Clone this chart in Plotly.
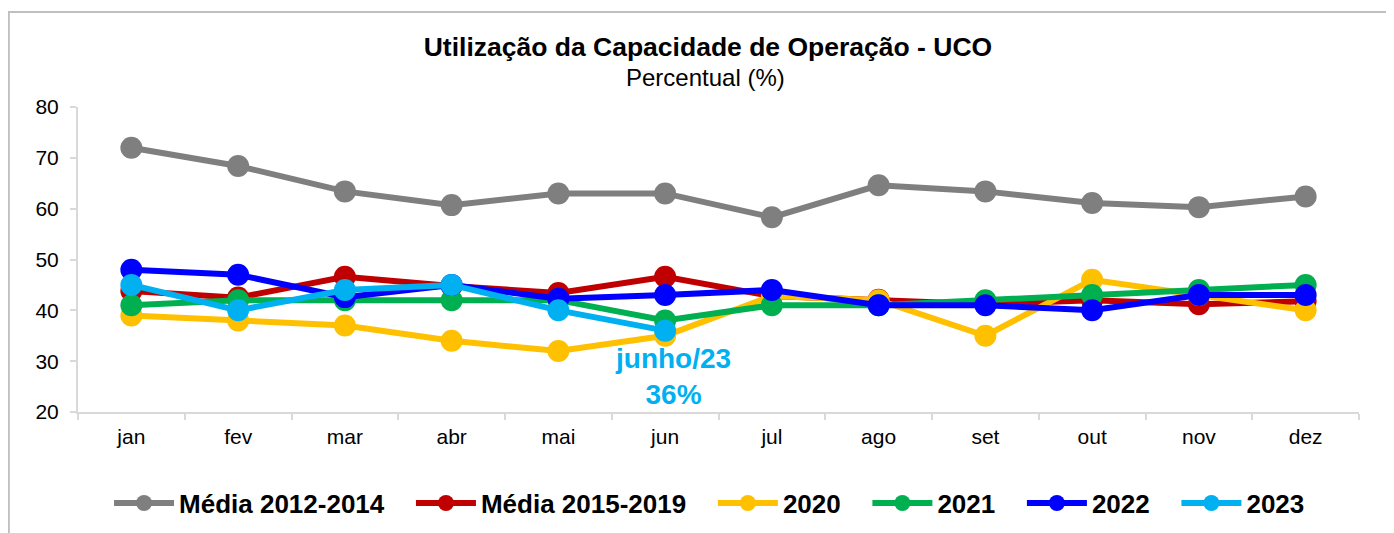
import plotly.graph_objects as go

meses = ['jan', 'fev', 'mar', 'abr', 'mai', 'jun', 'jul', 'ago', 'set', 'out', 'nov', 'dez']

media_2012_2014 = [72, 68.4, 63.4, 60.7, 63, 63, 58.3, 64.6, 63.4, 61.1, 60.3, 62.4]
media_2015_2019 = [43.8, 42.5, 46.6, 44.8, 43.4, 46.6, 42.8, 42.1, 41.2, 42, 41.2, 41.8]
uco_2020 = [39, 38, 37, 34, 32, 35, 42.8, 42, 35, 46, 43, 40]
uco_2021 = [41, 42, 42, 42, 42, 38, 41, 41, 42, 43, 44, 45]
uco_2022 = [48, 47, 42.6, 45, 42.3, 43, 44, 41, 41, 40, 43, 43]
uco_2023 = [45, 40, 44, 45, 40, 36]

series = [
    ('Média 2012-2014', media_2012_2014, '#7f7f7f'),
    ('Média 2015-2019', media_2015_2019, '#c00000'),
    ('2020', uco_2020, '#ffc000'),
    ('2021', uco_2021, '#00b050'),
    ('2022', uco_2022, '#0000ff'),
    ('2023', uco_2023, '#00b0f0'),
]

fonte = 'Liberation Sans, Arial'
espaco = '\u00a0' * 3  # afasta os itens da legenda

fig = go.Figure()
for i, (nome, valores, cor) in enumerate(series):
    rotulo = '<b>' + nome + '</b>' + (espaco if i < len(series) - 1 else '')
    fig.add_trace(go.Scatter(
        x=meses[:len(valores)], y=valores, name=rotulo,
        mode='lines+markers',
        line=dict(color=cor, width=6),
        marker=dict(color=cor, size=22),
    ))

# destaque do último ponto
fig.add_annotation(
    x='jun', y=27.0, text='<b>junho/23<br>36%</b>', showarrow=False,
    xshift=8, font=dict(size=28, color='#00b0f0', family=fonte),
)

# subtítulo
fig.add_annotation(
    xref='paper', yref='paper', x=0.49, y=1.098, xanchor='center', yanchor='middle',
    text='Percentual (%)', showarrow=False,
    font=dict(size=24, color='black', family=fonte),
)

# moldura do gráfico
fig.add_shape(type='rect', xref='paper', yref='paper',
              x0=-0.0540, x1=1.3, y0=-0.6, y1=1.3115,
              line=dict(color='#bfbfbf', width=2), layer='below')

fig.update_layout(
    width=1386, height=525,
    paper_bgcolor='white', plot_bgcolor='white',
    margin=dict(l=70, r=35, t=99, b=121, autoexpand=False),
    font=dict(family=fonte, size=21, color='black'),
    title=dict(
        text='<b>Utilização da Capacidade de Operação - UCO</b>',
        x=0.505, xanchor='center', y=0.9257, yanchor='middle',
        font=dict(size=26.5, color='black'),
    ),
    showlegend=True,
    legend=dict(
        orientation='h', x=0.493, xanchor='center',
        yref='container', y=0.057, yanchor='middle',
        font=dict(size=26, color='black', family=fonte),
        itemwidth=60, traceorder='normal',
    ),
    xaxis=dict(
        type='category', categoryorder='array', categoryarray=meses,
        range=[-0.5, 11.5],
        showline=True, linecolor='#d9d9d9', linewidth=2,
        ticks='outside', tickson='boundaries', tickcolor='#d9d9d9',
        ticklen=6, tickwidth=2, showgrid=False, zeroline=False,
        tickfont=dict(size=21), ticklabelstandoff=5,
    ),
    yaxis=dict(
        range=[20, 80], dtick=10,
        showline=True, linecolor='#d9d9d9', linewidth=2,
        ticks='outside', tickcolor='#d9d9d9', ticklen=6, tickwidth=2,
        showgrid=False, zeroline=False, tickfont=dict(size=21),
        ticklabelstandoff=7,
    ),
)

fig.write_html('out.html')
